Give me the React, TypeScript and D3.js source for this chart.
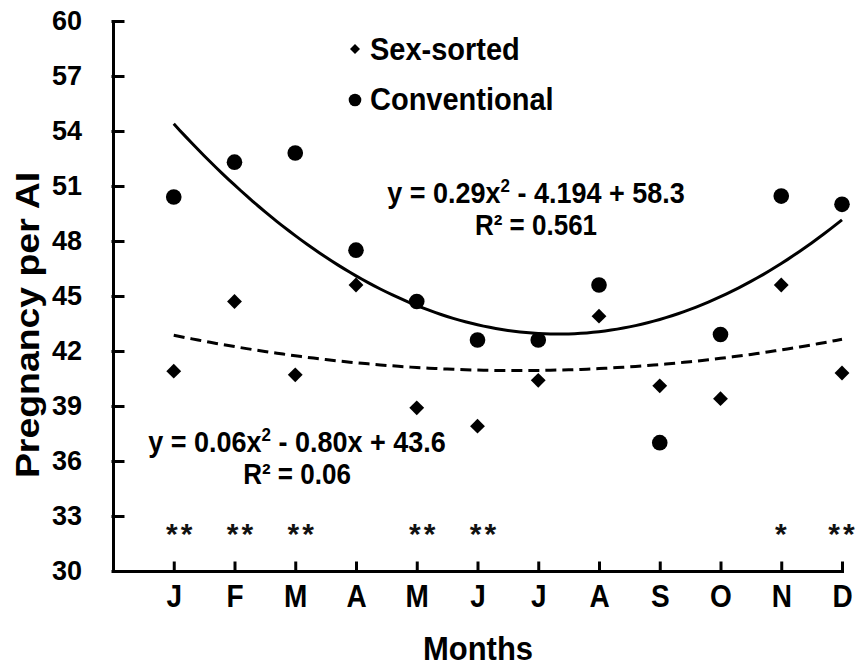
import React, { useEffect, useRef } from "react";
import * as d3 from "d3";

// values
const months = ["J", "F", "M", "A", "M", "J", "J", "A", "S", "O", "N", "D"];
const sexSorted = [40.9, 44.7, 40.7, 45.6, 38.9, 37.9, 40.4, 43.9, 40.1, 39.4, 45.6, 40.8];
const conventional = [50.4, 52.3, 52.8, 47.5, 44.7, 42.6, 42.6, 45.6, 37.0, 42.9, 50.45, 50.0];
const yTicks = [30, 33, 36, 39, 42, 45, 48, 51, 54, 57, 60];
// quadratic trend coefficients [a, b, c]
const convTrend = [0.286, -4.194, 58.3];
const sexTrend = [0.06, -0.8, 43.6];
const sigMonths = [1, 2, 3, 5, 6, 11, 12];
const sigMarks = ["**", "**", "**", "**", "**", "*", "**"];

const FONT = "'Liberation Sans', Arial, sans-serif";
const STRETCH = "scale(1,1.1)";

const App = () => {
  const svgRef = useRef<SVGSVGElement>(null);

  useEffect(() => {
    const svg = d3.select(svgRef.current);
    svg.selectAll("*").remove();

    const x = d3.scaleLinear().domain([0, 12]).range([113, 842]);
    const y = d3.scaleLinear().domain([30, 60]).range([571, 21]);

    // y axis
    const yAxis = d3
      .axisLeft(y)
      .tickValues(yTicks)
      .tickSizeInner(-10)
      .tickSizeOuter(0)
      .tickPadding(31);
    const gy = svg.append("g").attr("transform", "translate(113,0)").call(yAxis);
    gy.selectAll("path, line")
      .attr("stroke", "#000")
      .attr("stroke-width", 3)
      .attr("stroke-linecap", "square");
    gy.selectAll("text")
      .attr("font-family", FONT)
      .attr("font-weight", "bold")
      .attr("font-size", 27)
      .attr("fill", "#000");

    // x axis
    const xAxis = d3
      .axisBottom(x)
      .tickValues(d3.range(1, 13))
      .tickFormat((d) => months[(d as number) - 1])
      .tickSizeInner(-8)
      .tickSizeOuter(0)
      .tickPadding(13);
    const gx = svg.append("g").attr("transform", "translate(0,571)").call(xAxis);
    gx.selectAll("path, line")
      .attr("stroke", "#000")
      .attr("stroke-width", 3)
      .attr("stroke-linecap", "square");
    gx.selectAll("text")
      .attr("font-family", FONT)
      .attr("font-weight", "bold")
      .attr("font-size", 28)
      .attr("transform", STRETCH)
      .attr("fill", "#000");

    // trend lines
    const xs = d3.range(1, 12.001, 0.1);
    const quad = (c: number[]) => (v: number) => c[0] * v * v + c[1] * v + c[2];
    const line = d3.line<number>().x((v) => x(v));

    svg
      .append("path")
      .attr("d", line.y((v) => y(quad(convTrend)(v)))(xs))
      .attr("fill", "none")
      .attr("stroke", "#000")
      .attr("stroke-width", 3);

    svg
      .append("path")
      .attr("d", line.y((v) => y(quad(sexTrend)(v)))(xs))
      .attr("fill", "none")
      .attr("stroke", "#000")
      .attr("stroke-width", 3)
      .attr("stroke-dasharray", "11,6");

    // points
    const diamond = d3.symbol().type(d3.symbolSquare).size(110);
    svg
      .selectAll(".sex")
      .data(sexSorted)
      .join("path")
      .attr("class", "sex")
      .attr("d", diamond as any)
      .attr("transform", (d, i) => `translate(${x(i + 1)},${y(d)}) rotate(45)`)
      .attr("fill", "#000");

    svg
      .selectAll(".conv")
      .data(conventional)
      .join("circle")
      .attr("class", "conv")
      .attr("cx", (d, i) => x(i + 1))
      .attr("cy", (d) => y(d))
      .attr("r", 7.8)
      .attr("fill", "#000");

    // significance marks
    svg
      .selectAll(".sig")
      .data(sigMonths)
      .join("text")
      .attr("class", "sig")
      .attr("x", (d, i) => Math.min(x(d) + (sigMarks[i].length > 1 ? 7 : 1), 843))
      .attr("y", 544)
      .attr("text-anchor", "middle")
      .attr("font-family", FONT)
      .attr("font-weight", "bold")
      .attr("font-size", 30)
      .attr("letter-spacing", 3)
      .attr("fill", "#111")
      .text((d, i) => sigMarks[i]);

    // helper for the slightly tall text of the original
    const label = (px: number, py: number, size: number, txt: string, anchor = "start") =>
      svg
        .append("text")
        .attr("transform", `translate(${px},${py}) ${STRETCH}`)
        .attr("text-anchor", anchor)
        .attr("font-family", FONT)
        .attr("font-weight", "bold")
        .attr("font-size", size)
        .text(txt);

    // legend
    svg
      .append("path")
      .attr("d", d3.symbol().type(d3.symbolSquare).size(50)() as string)
      .attr("transform", "translate(355,49) rotate(45)");
    label(370, 60, 29, "Sex-sorted");
    svg.append("circle").attr("cx", 355).attr("cy", 100).attr("r", 6.3);
    label(370, 110, 29, "Conventional");

    // equations
    const eq = (cx: number, cy: number, a: string, b: string, r2: string) => {
      const t = label(cx, cy, 27, "", "middle");
      t.append("tspan").text(a);
      t.append("tspan").attr("font-size", 17).attr("dy", -10).text("2");
      t.append("tspan").attr("dy", 10).text(b);
      label(cx, cy + 32, 26, r2, "middle");
    };
    eq(536, 203, "y = 0.29x", " - 4.194 + 58.3", "R² = 0.561");
    eq(297, 452, "y = 0.06x", " - 0.80x + 43.6", "R² = 0.06");

    // axis titles
    label(478, 660, 31, "Months", "middle");

    svg
      .append("text")
      .attr("transform", "translate(39,325) rotate(-90) scale(1.1,1)")
      .attr("text-anchor", "middle")
      .attr("font-family", FONT)
      .attr("font-weight", "bold")
      .attr("font-size", 34)
      .text("Pregnancy per AI");
  }, []);

  return (
    <svg
      ref={svgRef}
      width={861}
      height={666}
      style={{ position: "absolute", left: 0, top: 0, background: "#fff" }}
    />
  );
};

export default App;
